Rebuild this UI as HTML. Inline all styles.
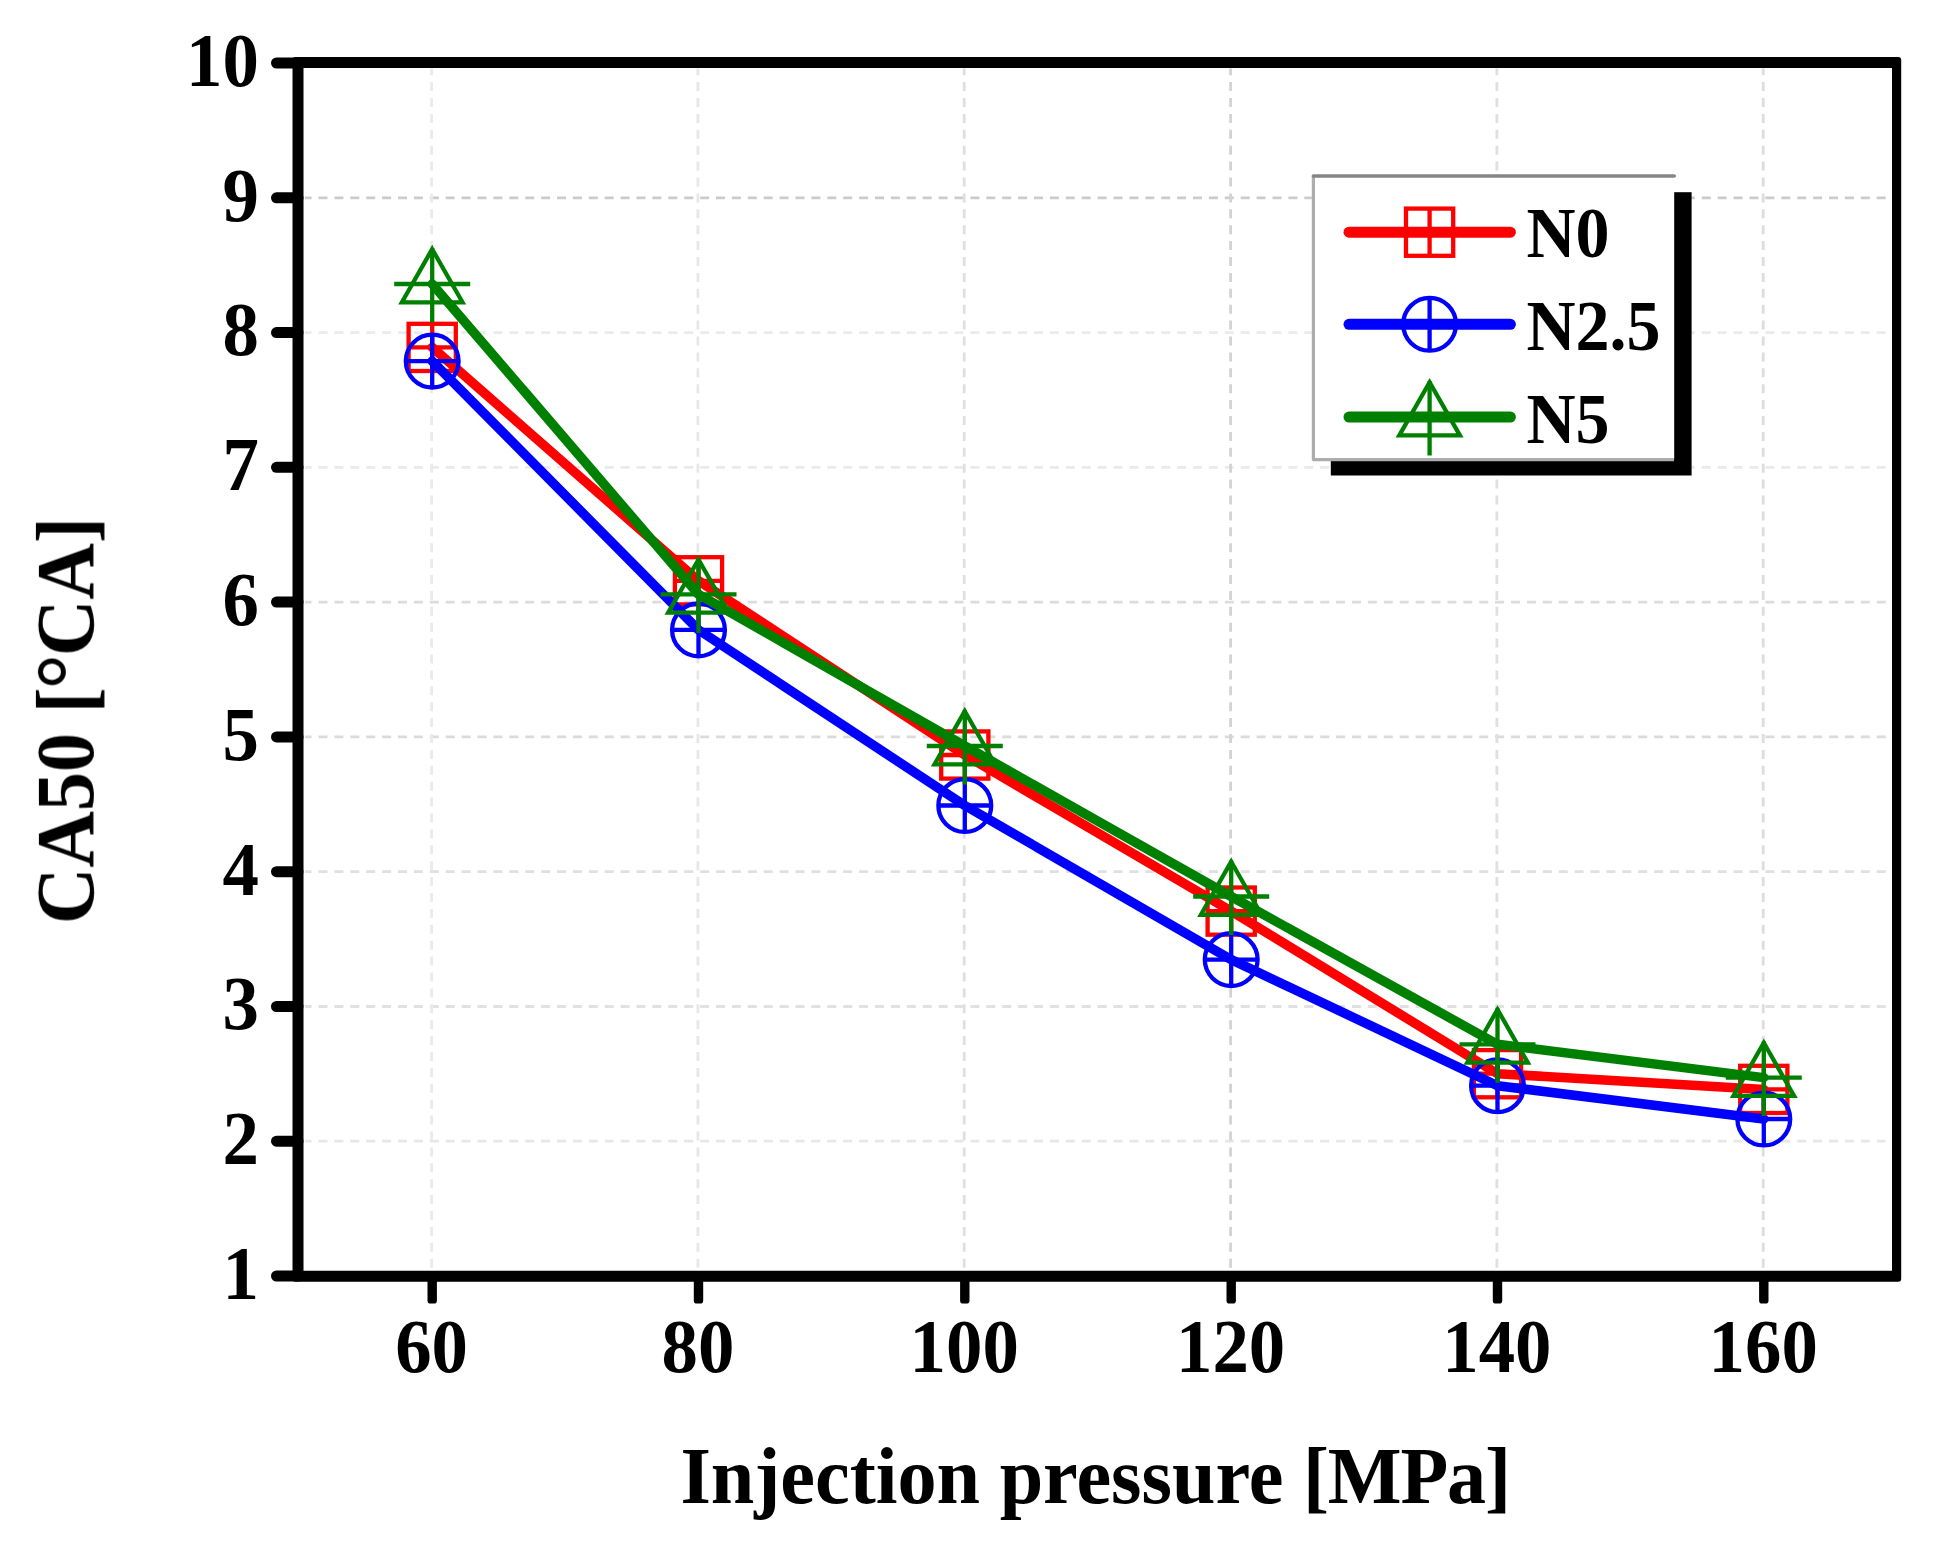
<!DOCTYPE html>
<html lang="en"><head><meta charset="utf-8"><title>CA50 vs injection pressure</title>
<style>
html,body{margin:0;padding:0;background:#fff;}
body{width:1933px;height:1548px;overflow:hidden;}
svg{display:block;}
text{font-family:"Liberation Serif",serif;font-weight:bold;fill:#000;}
.tick{font-size:72.8px;}
.ttl{font-size:78.2px;}
.leg{font-size:68px;}
</style></head><body>
<svg width="1933" height="1548" viewBox="0 0 1933 1548">
<rect x="0" y="0" width="1933" height="1548" fill="#ffffff"/>
<g id="chart" filter="url(#soft)">
<defs><filter id="soft" x="-2%" y="-2%" width="104%" height="104%"><feGaussianBlur stdDeviation="0.72"/></filter></defs>
<g fill="none" stroke-width="2.8" stroke-dasharray="9 6.9" stroke-dashoffset="2.4">
<line x1="305.0" y1="1141.2" x2="1892.8" y2="1141.2" stroke="#e7e7e7"/>
<line x1="305.0" y1="1006.5" x2="1892.8" y2="1006.5" stroke="#e1e1e1"/>
<line x1="305.0" y1="871.7" x2="1892.8" y2="871.7" stroke="#e0e0e0"/>
<line x1="305.0" y1="736.9" x2="1892.8" y2="736.9" stroke="#dbdbdb"/>
<line x1="305.0" y1="602.1" x2="1892.8" y2="602.1" stroke="#dcdcdc"/>
<line x1="305.0" y1="467.3" x2="1892.8" y2="467.3" stroke="#eaeaea"/>
<line x1="305.0" y1="332.6" x2="1892.8" y2="332.6" stroke="#ebebeb"/>
<line x1="305.0" y1="197.8" x2="1892.8" y2="197.8" stroke="#cbcbcb"/>
<line x1="431.6" y1="68.6" x2="431.6" y2="1271.2" stroke="#eaeaea"/>
<line x1="697.9" y1="68.6" x2="697.9" y2="1271.2" stroke="#e7e7e7"/>
<line x1="964.2" y1="68.6" x2="964.2" y2="1271.2" stroke="#dfdfdf"/>
<line x1="1230.6" y1="68.6" x2="1230.6" y2="1271.2" stroke="#d3d3d3"/>
<line x1="1496.9" y1="68.6" x2="1496.9" y2="1271.2" stroke="#e0e0e0"/>
<line x1="1763.2" y1="68.6" x2="1763.2" y2="1271.2" stroke="#dddddd"/>
</g>
<rect x="1330.8" y="192.2" width="360.8" height="283.3" fill="#000"/>
<rect x="1311.8" y="174.2" width="362.4" height="286.8" rx="2" fill="#fff"/>
<path d="M1313.4 176V459.6H1674" fill="none" stroke="#adadad" stroke-width="3.2" stroke-linejoin="round"/>
<path d="M1313.4 176H1674.2" fill="none" stroke="#868686" stroke-width="3.6" stroke-linecap="round"/>
<polyline points="432.2,347.4 698.5,580.8 964.8,755.0 1231.2,911.1 1497.5,1073.7 1763.8,1089.4" fill="none" stroke="#ff0000" stroke-width="9.5" stroke-linejoin="round" stroke-linecap="round"/>
<g fill="none" stroke="#ff0000" stroke-width="4.3"><rect x="408.6" y="323.8" width="47.2" height="47.2"/><path d="M408.6 347.4H455.8M432.2 323.8V371.0"/></g>
<g fill="none" stroke="#ff0000" stroke-width="4.3"><rect x="674.9" y="557.2" width="47.2" height="47.2"/><path d="M674.9 580.8H722.1M698.5 557.2V604.4"/></g>
<g fill="none" stroke="#ff0000" stroke-width="4.3"><rect x="941.2" y="731.4" width="47.2" height="47.2"/><path d="M941.2 755.0H988.4M964.8 731.4V778.6"/></g>
<g fill="none" stroke="#ff0000" stroke-width="4.3"><rect x="1207.6" y="887.5" width="47.2" height="47.2"/><path d="M1207.6 911.1H1254.8M1231.2 887.5V934.7"/></g>
<g fill="none" stroke="#ff0000" stroke-width="4.3"><rect x="1473.9" y="1050.1" width="47.2" height="47.2"/><path d="M1473.9 1073.7H1521.1M1497.5 1050.1V1097.3"/></g>
<g fill="none" stroke="#ff0000" stroke-width="4.3"><rect x="1740.2" y="1065.8" width="47.2" height="47.2"/><path d="M1740.2 1089.4H1787.4M1763.8 1065.8V1113.0"/></g>
<polyline points="432.2,361.1 698.5,629.9 964.8,805.5 1231.2,959.6 1497.5,1085.7 1763.8,1119.0" fill="none" stroke="#0000ff" stroke-width="9.5" stroke-linejoin="round" stroke-linecap="round"/>
<g fill="none" stroke="#0000ff" stroke-width="4.3"><circle cx="432.2" cy="361.1" r="26.4"/><path d="M405.8 361.1H458.6M432.2 334.7V387.5"/></g>
<g fill="none" stroke="#0000ff" stroke-width="4.3"><circle cx="698.5" cy="629.9" r="26.4"/><path d="M672.1 629.9H724.9M698.5 603.5V656.3"/></g>
<g fill="none" stroke="#0000ff" stroke-width="4.3"><circle cx="964.8" cy="805.5" r="26.4"/><path d="M938.4 805.5H991.2M964.8 779.1V831.9"/></g>
<g fill="none" stroke="#0000ff" stroke-width="4.3"><circle cx="1231.2" cy="959.6" r="26.4"/><path d="M1204.8 959.6H1257.6M1231.2 933.2V986.0"/></g>
<g fill="none" stroke="#0000ff" stroke-width="4.3"><circle cx="1497.5" cy="1085.7" r="26.4"/><path d="M1471.1 1085.7H1523.9M1497.5 1059.3V1112.1"/></g>
<g fill="none" stroke="#0000ff" stroke-width="4.3"><circle cx="1763.8" cy="1119.0" r="26.4"/><path d="M1737.4 1119.0H1790.2M1763.8 1092.6V1145.4"/></g>
<polyline points="432.2,284.0 698.5,594.4 964.8,746.0 1231.2,896.5 1497.5,1044.3 1763.8,1077.6" fill="none" stroke="#008000" stroke-width="9.5" stroke-linejoin="round" stroke-linecap="round"/>
<g fill="none" stroke="#008000" stroke-width="4.3" stroke-linejoin="miter"><path d="M432.2 249.2L462.5 302.3H401.9Z"/><path d="M394.2 284.0H470.2M432.2 248.0V322.5"/></g>
<g fill="none" stroke="#008000" stroke-width="4.3" stroke-linejoin="miter"><path d="M698.5 559.6L728.8 612.7H668.2Z"/><path d="M660.5 594.4H736.5M698.5 558.4V632.9"/></g>
<g fill="none" stroke="#008000" stroke-width="4.3" stroke-linejoin="miter"><path d="M964.8 711.2L995.1 764.3H934.5Z"/><path d="M926.8 746.0H1002.8M964.8 710.0V784.5"/></g>
<g fill="none" stroke="#008000" stroke-width="4.3" stroke-linejoin="miter"><path d="M1231.2 861.7L1261.5 914.8H1200.9Z"/><path d="M1193.2 896.5H1269.2M1231.2 860.5V935.0"/></g>
<g fill="none" stroke="#008000" stroke-width="4.3" stroke-linejoin="miter"><path d="M1497.5 1009.5L1527.8 1062.6H1467.2Z"/><path d="M1459.5 1044.3H1535.5M1497.5 1008.3V1082.8"/></g>
<g fill="none" stroke="#008000" stroke-width="4.3" stroke-linejoin="miter"><path d="M1763.8 1042.8L1794.1 1095.9H1733.5Z"/><path d="M1725.8 1077.6H1801.8M1763.8 1041.6V1116.1"/></g>
<line x1="1349" y1="232.2" x2="1510.4" y2="232.2" stroke="#ff0000" stroke-width="11.0" stroke-linecap="round"/>
<g fill="none" stroke="#ff0000" stroke-width="4.3"><rect x="1406.0" y="208.6" width="47.2" height="47.2"/><path d="M1406.0 232.2H1453.2M1429.6 208.6V255.8"/></g>
<line x1="1349" y1="324.3" x2="1510.4" y2="324.3" stroke="#0000ff" stroke-width="11.0" stroke-linecap="round"/>
<g fill="none" stroke="#0000ff" stroke-width="4.3"><circle cx="1429.6" cy="324.3" r="26.4"/><path d="M1403.2 324.3H1456.0M1429.6 297.9V350.7"/></g>
<line x1="1349" y1="417.1" x2="1510.4" y2="417.1" stroke="#008000" stroke-width="11.0" stroke-linecap="round"/>
<g fill="none" stroke="#008000" stroke-width="4.3" stroke-linejoin="miter"><path d="M1429.6 382.3L1459.9 435.4H1399.3Z"/><path d="M1391.6 417.1H1467.6M1429.6 381.1V455.6"/></g>
<text class="leg" text-anchor="start" transform="translate(1526.5 256.9) scale(1 1.055)">N0</text>
<text class="leg" text-anchor="start" transform="translate(1526.5 350.3) scale(1 1.055)">N2.5</text>
<text class="leg" text-anchor="start" transform="translate(1526.5 442.7) scale(1 1.055)">N5</text>
<g fill="none" stroke="#000" stroke-width="11" stroke-linecap="round" stroke-linejoin="round">
<path d="M295.5 57.1H1898.2Q1901.2 57.1 1901.2 60.1V1278.7Q1901.2 1281.7 1898.2 1281.7H295.5Q292.5 1281.7 292.5 1278.7V60.1Q292.5 57.1 295.5 57.1ZM303.5 68.1V1270.7H1892V68.1Z" fill="#000" fill-rule="evenodd" stroke="none"/>
<line x1="276.5" y1="1276.0" x2="298.0" y2="1276.0"/>
<line x1="276.5" y1="1141.2" x2="298.0" y2="1141.2"/>
<line x1="276.5" y1="1006.5" x2="298.0" y2="1006.5"/>
<line x1="276.5" y1="871.7" x2="298.0" y2="871.7"/>
<line x1="276.5" y1="736.9" x2="298.0" y2="736.9"/>
<line x1="276.5" y1="602.1" x2="298.0" y2="602.1"/>
<line x1="276.5" y1="467.3" x2="298.0" y2="467.3"/>
<line x1="276.5" y1="332.6" x2="298.0" y2="332.6"/>
<line x1="276.5" y1="197.8" x2="298.0" y2="197.8"/>
<line x1="276.5" y1="63.0" x2="298.0" y2="63.0"/>
<rect x="427.5" y="1276.2" width="9.4" height="27.4" rx="3.2" fill="#000" stroke="none"/>
<rect x="693.8" y="1276.2" width="9.4" height="27.4" rx="3.2" fill="#000" stroke="none"/>
<rect x="960.1" y="1276.2" width="9.4" height="27.4" rx="3.2" fill="#000" stroke="none"/>
<rect x="1226.5" y="1276.2" width="9.4" height="27.4" rx="3.2" fill="#000" stroke="none"/>
<rect x="1492.8" y="1276.2" width="9.4" height="27.4" rx="3.2" fill="#000" stroke="none"/>
<rect x="1759.1" y="1276.2" width="9.4" height="27.4" rx="3.2" fill="#000" stroke="none"/>
</g>
<text class="tick" text-anchor="end" transform="translate(258.8 1298.8) scale(1 1.06)">1</text>
<text class="tick" text-anchor="end" transform="translate(258.8 1164.0) scale(1 1.06)">2</text>
<text class="tick" text-anchor="end" transform="translate(258.8 1029.3) scale(1 1.06)">3</text>
<text class="tick" text-anchor="end" transform="translate(258.8 894.5) scale(1 1.06)">4</text>
<text class="tick" text-anchor="end" transform="translate(258.8 759.7) scale(1 1.06)">5</text>
<text class="tick" text-anchor="end" transform="translate(258.8 624.9) scale(1 1.06)">6</text>
<text class="tick" text-anchor="end" transform="translate(258.8 490.1) scale(1 1.06)">7</text>
<text class="tick" text-anchor="end" transform="translate(258.8 355.4) scale(1 1.06)">8</text>
<text class="tick" text-anchor="end" transform="translate(258.8 220.6) scale(1 1.06)">9</text>
<text class="tick" text-anchor="end" transform="translate(258.8 85.8) scale(1 1.06)">10</text>
<text class="tick" text-anchor="middle" transform="translate(431.6 1371.7) scale(1 1.06)">60</text>
<text class="tick" text-anchor="middle" transform="translate(697.9 1371.7) scale(1 1.06)">80</text>
<text class="tick" text-anchor="middle" transform="translate(964.2 1371.7) scale(1 1.06)">100</text>
<text class="tick" text-anchor="middle" transform="translate(1230.6 1371.7) scale(1 1.06)">120</text>
<text class="tick" text-anchor="middle" transform="translate(1496.9 1371.7) scale(1 1.06)">140</text>
<text class="tick" text-anchor="middle" transform="translate(1763.2 1371.7) scale(1 1.06)">160</text>
<text class="ttl" transform="translate(680.4 1503.0) scale(1 1.04)">Injection pressure <tspan letter-spacing="-1.2">[MPa]</tspan></text>
<text class="ttl" text-anchor="middle" transform="translate(93.4 720.6) rotate(-90) scale(1 1.06)">CA50 [<tspan font-size="88" dy="6" dx="-2">°</tspan><tspan dy="-6" dx="-2">CA]</tspan></text>
</g>
</svg>
</body></html>
